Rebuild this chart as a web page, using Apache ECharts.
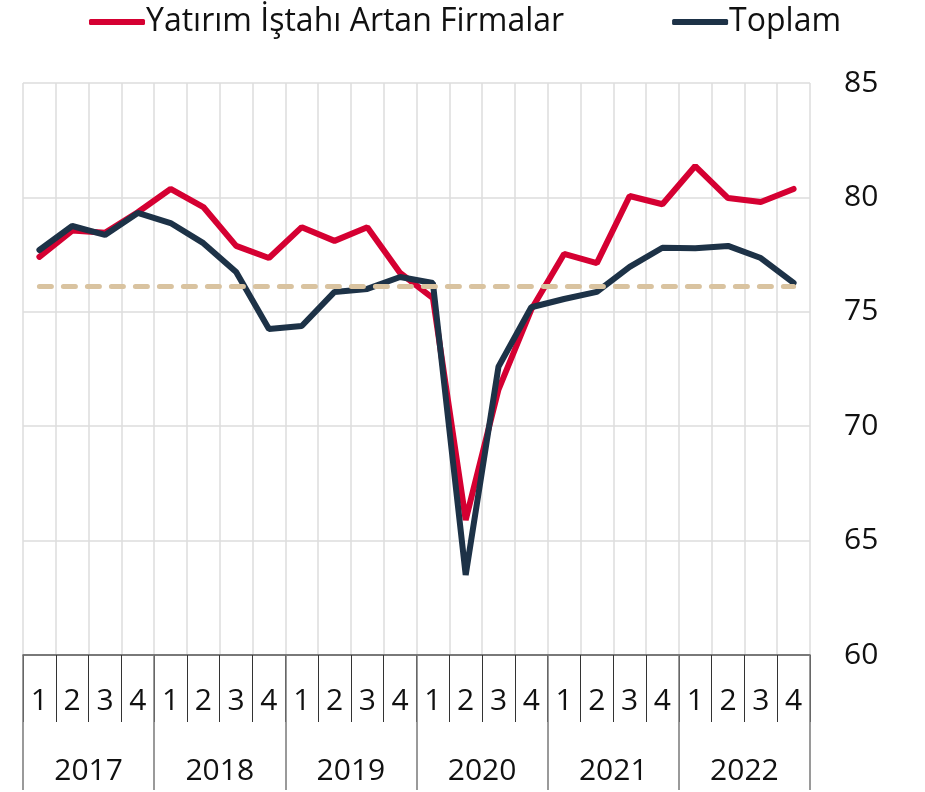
<!DOCTYPE html>
<html>
<head>
<meta charset="utf-8">
<script src="https://cdn.jsdelivr.net/npm/echarts@6/dist/echarts.min.js"></script>
<style>
  html, body { margin: 0; padding: 0; background: #fff; }
  #chart { width: 925px; height: 792px; }
</style>
</head>
<body>
<div id="chart"></div>
<script>
// quarters 2017Q1 .. 2022Q4
const years = ['2017', '2018', '2019', '2020', '2021', '2022'];
const quarters = [];
years.forEach(y => ['1', '2', '3', '4'].forEach(q => quarters.push(y + '-' + q)));

const yatirim = [77.4, 78.55, 78.45, 79.35, 80.37, 79.58, 77.88, 77.35,
                 78.7, 78.1, 78.7, 76.7, 75.6, 65.9, 71.6, 75.1,
                 77.53, 77.13, 80.06, 79.7, 81.37, 79.97, 79.8, 80.37];
const toplam  = [77.7, 78.75, 78.36, 79.32, 78.88, 78.0, 76.74, 74.25,
                 74.38, 75.87, 76.0, 76.52, 76.26, 63.5, 72.6, 75.2,
                 75.56, 75.87, 76.96, 77.8, 77.78, 77.88, 77.35, 76.26];
const ortalama = 76.13;

const font = 'Open Sans';
const chart = echarts.init(document.getElementById('chart'));

const option = {
  backgroundColor: '#ffffff',
  animation: false,
  textStyle: { fontFamily: font },
  legend: {
    top: 1,
    left: 84,
    icon: 'roundRect',
    itemWidth: 56,
    itemHeight: 6,
    itemGap: 108,
    textStyle: { fontSize: 32, color: '#111', fontFamily: font, padding: [0, 0, 0, -4] },
    data: ['Yatırım İştahı Artan Firmalar', 'Toplam']
  },
  grid: { left: 23, right: 115, top: 83, bottom: 137 },
  xAxis: [{
    type: 'category',
    data: quarters,
    boundaryGap: true,
    axisLine: { lineStyle: { color: '#555', width: 1.5 } },
    axisTick: { show: true, interval: 0, length: 67, lineStyle: { color: '#333', width: 1 } },
    axisLabel: {
      interval: 0, margin: 31, fontSize: 30, color: '#111',
      formatter: v => v.split('-')[1]
    },
    splitLine: { show: true, interval: 0, lineStyle: { color: '#dcdcdc', width: 1.5 } }
  }, {
    type: 'category',
    data: years,
    position: 'bottom',
    boundaryGap: true,
    axisLine: { show: false },
    axisTick: { show: true, interval: 0, length: 135, lineStyle: { color: '#7a7a7a', width: 1.5 } },
    axisLabel: { interval: 0, margin: 101, fontSize: 30, color: '#111' },
    splitLine: { show: false }
  }],
  yAxis: {
    type: 'value',
    position: 'right',
    min: 60, max: 85, interval: 5,
    axisLine: { show: false },
    axisTick: { show: false },
    axisLabel: { fontSize: 30, color: '#111', margin: 34 },
    splitLine: { lineStyle: { color: '#dcdcdc', width: 1.5 } }
  },
  series: [{
    name: 'Yatırım İştahı Artan Firmalar',
    type: 'line',
    data: yatirim,
    symbol: 'none',
    color: '#d50032',
    lineStyle: { width: 6, color: '#d50032', cap: 'round' }
  }, {
    name: 'Toplam',
    type: 'line',
    data: toplam,
    symbol: 'none',
    color: '#1d3247',
    lineStyle: { width: 6, color: '#1d3247', cap: 'round' },
    markLine: {
      silent: true,
      symbol: 'none',
      label: { show: false },
      lineStyle: { color: '#d9c3a0', width: 5, type: [12, 12], cap: 'round' },
      data: [[
        { coord: [quarters[0], ortalama] },
        { coord: [quarters[quarters.length - 1], ortalama] }
      ]]
    }
  }]
};

chart.setOption(option);
</script>
</body>
</html>
